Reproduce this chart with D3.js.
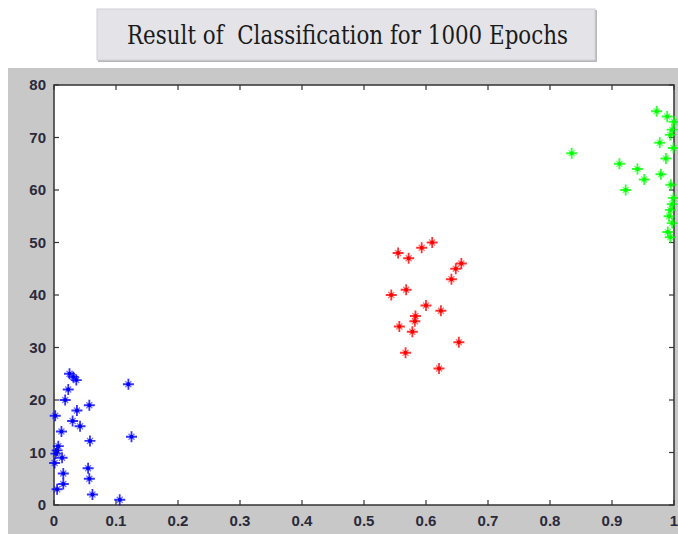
<!DOCTYPE html>
<html>
<head>
<meta charset="utf-8">
<script src="https://cdn.jsdelivr.net/npm/d3@7"></script>
<style>
  html, body { margin: 0; padding: 0; background: #fff; }
  svg { display: block; }
  .title { font-family: 'DejaVu Serif', serif; }
</style>
</head>
<body>
<div id="chart"></div>
<script>
// class 1 (blue)
const blueX = [0.025, 0.036, 0.031, 0.12, 0.023, 0.018, 0.057, 0.002, 0.037, 0.03, 0.042, 0.012, 0.125,
  0.058, 0.007, 0.005, 0.003, 0.013, 0.001, 0.055, 0.015, 0.057, 0.015, 0.005, 0.062, 0.106];
const blueY = [25, 23.8, 24.4, 23, 22, 20, 19, 17, 18, 16, 15, 14, 13,
  12.2, 11.2, 10.4, 9.8, 9, 8, 7, 6, 5, 4, 3, 2, 1];

// class 2 (red)
const redX = [0.555, 0.572, 0.593, 0.61, 0.657, 0.648, 0.641, 0.568, 0.544, 0.6, 0.624, 0.583, 0.582,
  0.557, 0.578, 0.653, 0.567, 0.621];
const redY = [48, 47, 49, 50, 46, 45, 43, 41, 40, 38, 37, 36, 35, 34, 33, 31, 29, 26];

// class 3 (green)
const greenX = [0.972, 0.989, 1.0, 0.997, 0.994, 0.977, 0.999, 0.835, 0.987, 0.912, 0.941, 0.979, 0.952,
  0.922, 0.995, 0.999, 0.997, 0.994, 0.992, 0.997, 0.99, 0.994];
const greenY = [75, 74, 73, 71.5, 70.5, 69, 68, 67, 66, 65, 64, 63, 62,
  60, 61, 58.5, 57.3, 56.2, 55, 53.7, 52, 51];

const xTicks = [0, 0.1, 0.2, 0.3, 0.4, 0.5, 0.6, 0.7, 0.8, 0.9, 1];
const yTicks = [0, 10, 20, 30, 40, 50, 60, 70, 80];
const title = 'Result of\u00a0 Classification for 1000 Epochs';

const W = 678, H = 534;
const plot = { left: 54, top: 85, right: 674, bottom: 505 };

const svg = d3.select('#chart').append('svg')
  .attr('width', W)
  .attr('height', H);

// figure background
svg.append('rect')
  .attr('x', 8).attr('y', 68)
  .attr('width', W - 8).attr('height', H - 68)
  .attr('fill', '#c8c8c8');

// title box
svg.append('rect')
  .attr('x', 98).attr('y', 10)
  .attr('width', 499).attr('height', 52)
  .attr('fill', '#b8b8bc');
svg.append('rect')
  .attr('x', 97).attr('y', 9)
  .attr('width', 498).attr('height', 51)
  .attr('fill', '#e3e3e8')
  .attr('stroke', '#d0d0d6')
  .attr('stroke-width', 1);
svg.append('text')
  .attr('class', 'title')
  .attr('x', 127).attr('y', 44)
  .attr('textLength', 441)
  .attr('lengthAdjust', 'spacingAndGlyphs')
  .attr('font-size', 26)
  .attr('fill', '#1a1a1a')
  .text(title);

// plot area
svg.append('rect')
  .attr('x', plot.left).attr('y', plot.top)
  .attr('width', plot.right - plot.left).attr('height', plot.bottom - plot.top)
  .attr('fill', '#fff');

const x = d3.scaleLinear().domain([0, 1]).range([plot.left, plot.right]);
const y = d3.scaleLinear().domain([0, 80]).range([plot.bottom, plot.top]);

const axisColor = '#333';
const tickLen = 5;

// ticks (inward on all sides)
const g = svg.append('g').attr('stroke', axisColor).attr('stroke-width', 1.2);
xTicks.forEach(t => {
  g.append('line').attr('x1', x(t)).attr('x2', x(t)).attr('y1', plot.bottom).attr('y2', plot.bottom - tickLen);
  g.append('line').attr('x1', x(t)).attr('x2', x(t)).attr('y1', plot.top).attr('y2', plot.top + tickLen);
});
yTicks.forEach(t => {
  g.append('line').attr('x1', plot.left).attr('x2', plot.left + tickLen).attr('y1', y(t)).attr('y2', y(t));
  g.append('line').attr('x1', plot.right).attr('x2', plot.right - tickLen).attr('y1', y(t)).attr('y2', y(t));
});

// box
svg.append('rect')
  .attr('x', plot.left).attr('y', plot.top)
  .attr('width', plot.right - plot.left).attr('height', plot.bottom - plot.top)
  .attr('fill', 'none')
  .attr('stroke', axisColor)
  .attr('stroke-width', 1.5);

// tick labels
const labelStyle = sel => sel
  .style('font-family', '"Liberation Sans", Arial, sans-serif')
  .style('font-size', '15px')
  .style('font-weight', 'bold')
  .attr('fill', '#2a2a3a');

svg.append('g').selectAll('text')
  .data(xTicks)
  .join('text')
  .attr('x', d => x(d))
  .attr('y', 526)
  .attr('text-anchor', 'middle')
  .text(d => d3.format('~g')(d))
  .call(labelStyle);

svg.append('g').selectAll('text')
  .data(yTicks)
  .join('text')
  .attr('x', 46)
  .attr('y', d => y(d) + 5)
  .attr('text-anchor', 'end')
  .text(d => d)
  .call(labelStyle);

// star markers
function drawSeries(xs, ys, color) {
  const pts = xs.map((v, i) => ({ x: v, y: ys[i] }));
  const grp = svg.append('g').attr('stroke', color).attr('fill', color);
  const m = grp.selectAll('g')
    .data(pts)
    .join('g')
    .attr('transform', d => `translate(${x(d.x)},${y(d.y)})`);
  m.append('path')
    .attr('d', 'M-5.5,0H5.5M0,-5.5V5.5')
    .attr('stroke-width', 1.8)
    .attr('stroke-opacity', 0.8);
  m.append('path')
    .attr('d', 'M-3,-3L3,3M-3,3L3,-3')
    .attr('stroke-width', 1.3)
    .attr('stroke-opacity', 0.55);
  m.append('circle')
    .attr('r', 2)
    .attr('stroke', 'none');
}

drawSeries(blueX, blueY, '#0000ff');
drawSeries(redX, redY, '#ff0000');
drawSeries(greenX, greenY, '#00ff00');
</script>
</body>
</html>
